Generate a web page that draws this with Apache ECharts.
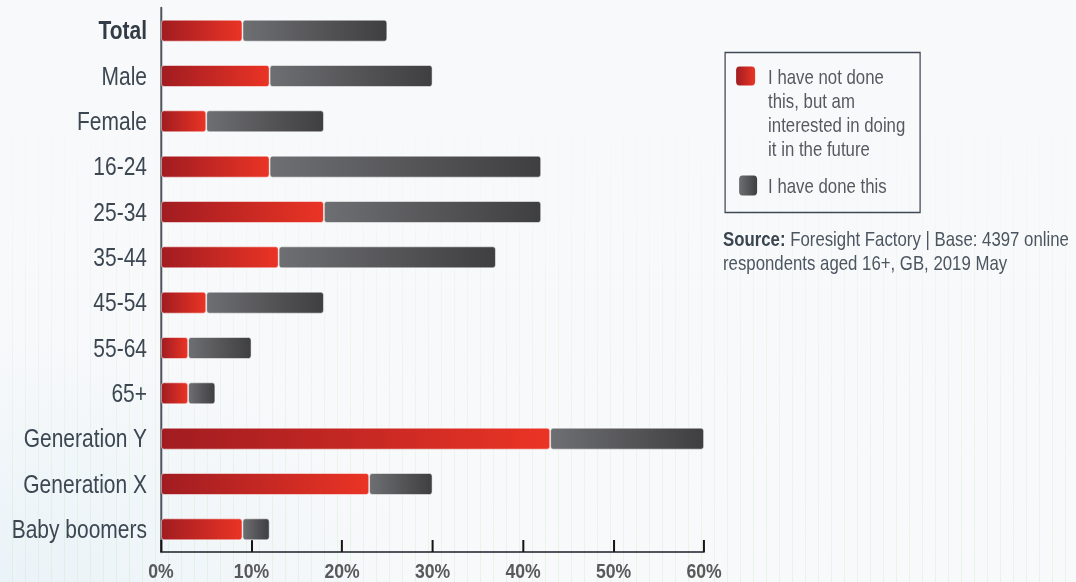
<!DOCTYPE html>
<html>
<head>
<meta charset="utf-8">
<title>Interest by group</title>
<script src="https://cdn.jsdelivr.net/npm/echarts@6/dist/echarts.min.js"></script>
<style>
  html, body { margin: 0; padding: 0; }
  body {
    width: 1076px; height: 582px; overflow: hidden; position: relative;
    background: radial-gradient(ellipse 420px 260px at 0% 100%, #eaf3f8 0%, rgba(234,243,248,0) 100%), #f8f9fb;
  }
  /* faint vertical stripe texture in the lower part of the page */
  .stripes {
    position: absolute; left: 0; top: 0; width: 1076px; height: 582px;
    background: repeating-linear-gradient(90deg, rgba(190,230,180,0) 0px, rgba(190,230,180,0) 12px, rgba(190,230,180,0.3) 12px, rgba(190,230,180,0.3) 13px);
    -webkit-mask-image: linear-gradient(180deg, rgba(0,0,0,0) 15%, rgba(0,0,0,0.6) 60%, rgba(0,0,0,0.9) 100%);
    mask-image: linear-gradient(180deg, rgba(0,0,0,0) 15%, rgba(0,0,0,0.6) 60%, rgba(0,0,0,0.9) 100%);
  }
  /* the chart is laid out wider and squeezed horizontally to get condensed lettering */
  #chart { position: absolute; left: 0; top: 0; height: 582px; transform-origin: 0 0; }
</style>
</head>
<body>
<div class="stripes"></div>
<div id="chart"></div>
<script>
// Groups, top to bottom
const categories = ['Total', 'Male', 'Female', '16-24', '25-34', '35-44', '45-54', '55-64', '65+', 'Generation Y', 'Generation X', 'Baby boomers'];
// % who have not done this but are interested in the future
const interested = [9, 12, 5, 12, 18, 13, 5, 3, 3, 43, 23, 9];
// % who have done this
const done = [16, 18, 13, 30, 24, 24, 13, 7, 3, 17, 7, 3];
const xTicks = [0, 10, 20, 30, 40, 50, 60];

const seriesNames = ['I have not done this, but am interested in doing it in the future', 'I have done this'];
const legendLines = ['I have not done\nthis, but am\ninterested in doing\nit in the future', 'I have done this'];
const sourceText = ['Source:', 'Foresight Factory | Base: 4397 online', 'respondents aged 16+, GB, 2019 May'];

const FONT = '"Liberation Sans", Arial, sans-serif';

// horizontal squeeze factor and page width
const SQ = 0.84;
const PAGE_W = 1076;
const W = PAGE_W / SQ;
const px = v => v / SQ; // page x -> chart x

const el = document.getElementById('chart');
el.style.width = W + 'px';
el.style.transform = 'scaleX(' + SQ + ')';

function hGrad(c0, c1) {
  return new echarts.graphic.LinearGradient(0, 0, 1, 0, [
    { offset: 0, color: c0 }, { offset: 1, color: c1 }
  ]);
}
const redGrad = () => hGrad('#a11c21', '#ea3425');
const greyGrad = () => hGrad('#6e6f72', '#3f3e41');

const chart = echarts.init(el, null, { renderer: 'svg' });

chart.setOption({
  backgroundColor: 'transparent',
  animation: false,
  grid: {
    left: px(161), right: W - px(704), top: 8, bottom: 30,
    containLabel: false, outerBoundsMode: 'none'
  },
  xAxis: {
    type: 'value',
    min: xTicks[0],
    max: xTicks[xTicks.length - 1],
    interval: 10,
    axisLine: { show: true, lineStyle: { color: '#4f555b', width: 2 } },
    axisTick: { show: true, inside: true, length: 12, lineStyle: { color: '#151515', width: 2.4 } },
    splitLine: { show: false },
    axisLabel: {
      formatter: '{value}%',
      color: '#58595b',
      fontFamily: FONT,
      fontWeight: 'bold',
      fontSize: 21,
      margin: 8
    }
  },
  yAxis: {
    type: 'category',
    data: categories,
    inverse: true,
    axisLine: { show: true, lineStyle: { color: '#4f555b', width: 2.4 } },
    axisTick: { show: false },
    axisLabel: {
      color: '#3c4752',
      fontFamily: FONT,
      fontSize: 25,
      margin: px(14),
      formatter: v => v === 'Total' ? '{b|' + v + '}' : v,
      rich: { b: { fontFamily: FONT, fontSize: 25, fontWeight: 'bold', color: '#323c46' } }
    }
  },
  series: [
    {
      name: seriesNames[0],
      type: 'bar',
      stack: 'share',
      data: interested,
      barWidth: 22,
      itemStyle: { color: redGrad(), borderRadius: 3, borderColor: 'rgba(255,255,255,0.55)', borderWidth: 1 }
    },
    {
      name: seriesNames[1],
      type: 'bar',
      stack: 'share',
      data: done,
      barWidth: 22,
      itemStyle: { color: greyGrad(), borderRadius: 3, borderColor: 'rgba(255,255,255,0.55)', borderWidth: 1 }
    }
  ],
  graphic: [
    {
      type: 'group',
      left: px(723),
      top: 50,
      children: [
        { type: 'rect', shape: { x: 0, y: 0, width: px(195), height: 160 }, style: { fill: 'none', stroke: '#3e4953', lineWidth: 1.5 } },
        { type: 'rect', shape: { x: px(11), y: 14, width: px(19), height: 19, r: 4 }, style: { fill: redGrad() } },
        { type: 'text', x: px(43), y: 12, style: { text: legendLines[0], font: '20px ' + FONT, fill: '#555a60', lineHeight: 24, verticalAlign: 'top' } },
        { type: 'rect', shape: { x: px(14), y: 123, width: px(18), height: 20, r: 4 }, style: { fill: greyGrad() } },
        { type: 'text', x: px(43), y: 121, style: { text: legendLines[1], font: '20px ' + FONT, fill: '#555a60', lineHeight: 24, verticalAlign: 'top' } }
      ]
    },
    {
      type: 'text',
      left: px(723),
      top: 227,
      style: {
        text: '{b|' + sourceText[0] + '} ' + sourceText[1] + '\n' + sourceText[2],
        font: '20px ' + FONT,
        fill: '#4c5660',
        lineHeight: 24,
        rich: { b: { fontFamily: FONT, fontSize: 20, fontWeight: 'bold', fill: '#3a4550', lineHeight: 24 } }
      }
    }
  ]
});
</script>
</body>
</html>
